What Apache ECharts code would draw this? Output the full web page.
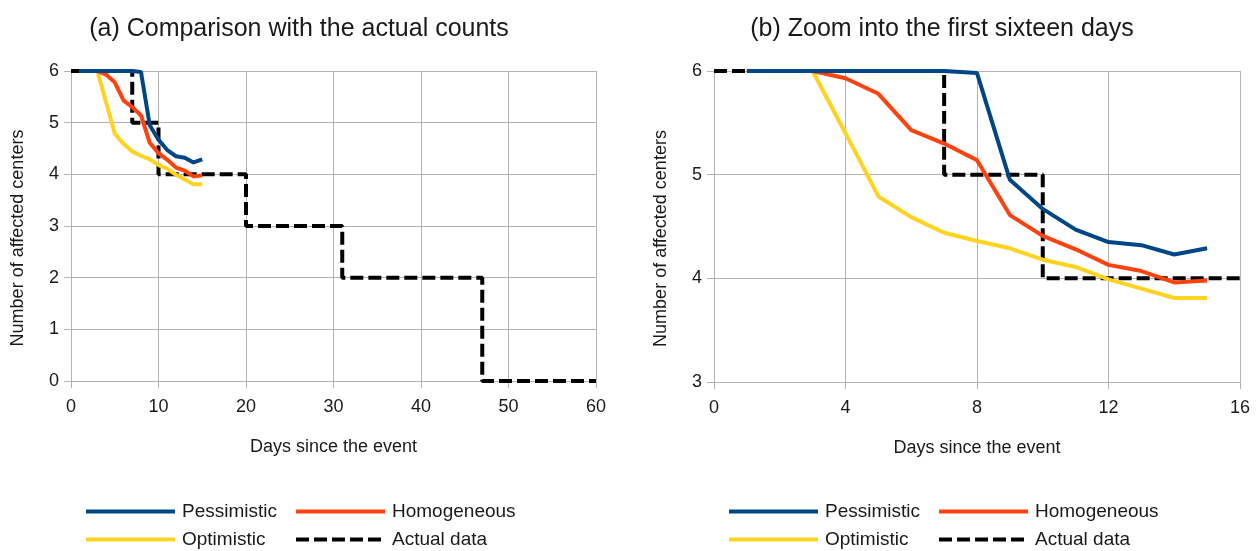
<!DOCTYPE html>
<html>
<head>
<meta charset="UTF-8">
<title>Affected centers</title>
<script src="https://cdn.jsdelivr.net/npm/echarts@6/dist/echarts.min.js"></script>
<style>
  html, body { margin: 0; padding: 0; background: #fff; }
  #chart { width: 1260px; height: 551px; }
</style>
</head>
<body>
<div id="chart"></div>
<script>
// model days and values
var modelDays = [1, 2, 3, 4, 5, 6, 7, 8, 9, 10, 11, 12, 13, 14, 15];
var pessimistic = [6, 6, 6, 6, 6, 6, 6, 5.98, 4.95, 4.67, 4.47, 4.35, 4.32, 4.23, 4.29];
var homogeneous = [6, 6, 6, 5.93, 5.78, 5.43, 5.30, 5.14, 4.61, 4.41, 4.28, 4.13, 4.07, 3.96, 3.98];
var optimistic = [6, 6, 6, 5.40, 4.79, 4.59, 4.44, 4.36, 4.29, 4.18, 4.11, 3.99, 3.90, 3.81, 3.81];
// actual counts, step changes
var actualDays = [0, 7, 10, 20, 31, 47, 60];
var actualCounts = [6, 5, 4, 3, 2, 0, 0];

var titles = ['(a) Comparison with the actual counts', '(b) Zoom into the first sixteen days'];
var xName = 'Days since the event';
var yName = 'Number of affected centers';

var textColor = '#1a1a1a';
var gridColor = '#b3b3b3';
var font = 'Liberation Sans, Arial, sans-serif';

function pairs(xs, ys) {
  var out = [];
  for (var i = 0; i < xs.length; i++) out.push([xs[i], ys[i]]);
  return out;
}

function xAxisOf(idx, max, interval) {
  return {
    type: 'value', gridIndex: idx, min: 0, max: max, interval: interval,
    name: xName, nameLocation: 'middle', nameGap: 57,
    nameTextStyle: { color: textColor, fontSize: 18, fontFamily: font },
    axisLine: { show: true, lineStyle: { color: gridColor, width: 1 } },
    axisTick: { show: true, length: 7, lineStyle: { color: gridColor } },
    axisLabel: { color: textColor, fontSize: 18, fontFamily: font, margin: 17 },
    splitLine: { show: true, lineStyle: { color: gridColor, width: 1 } }
  };
}

function yAxisOf(idx, min, max) {
  return {
    type: 'value', gridIndex: idx, min: min, max: max, interval: 1,
    name: yName, nameLocation: 'middle', nameGap: 44, nameRotate: 90,
    nameTextStyle: { color: textColor, fontSize: 18, fontFamily: font, padding: [0, 24, 0, 0] },
    axisLine: { show: true, lineStyle: { color: gridColor, width: 1 } },
    axisTick: { show: true, length: 7, lineStyle: { color: gridColor } },
    axisLabel: { color: textColor, fontSize: 18, fontFamily: font, margin: 12 },
    splitLine: { show: true, lineStyle: { color: gridColor, width: 1 } }
  };
}

function seriesOf(idx) {
  return [
    {
      name: 'Actual data', type: 'line', xAxisIndex: idx, yAxisIndex: idx,
      data: pairs(actualDays, actualCounts), step: 'end', symbol: 'none',
      lineStyle: { color: '#000000', width: 4, type: [13, 5] },
      itemStyle: { color: '#000000' }
    },
    {
      name: 'Optimistic', type: 'line', xAxisIndex: idx, yAxisIndex: idx,
      data: pairs(modelDays, optimistic), symbol: 'none',
      lineStyle: { color: '#ffd320', width: 4 }, itemStyle: { color: '#ffd320' }
    },
    {
      name: 'Homogeneous', type: 'line', xAxisIndex: idx, yAxisIndex: idx,
      data: pairs(modelDays, homogeneous), symbol: 'none',
      lineStyle: { color: '#ff420e', width: 4 }, itemStyle: { color: '#ff420e' }
    },
    {
      name: 'Pessimistic', type: 'line', xAxisIndex: idx, yAxisIndex: idx,
      data: pairs(modelDays, pessimistic), symbol: 'none',
      lineStyle: { color: '#004586', width: 4 }, itemStyle: { color: '#004586' }
    }
  ];
}

// one legend per entry so the two-by-two layout lines up like the original
function legendOf(left, top, name) {
  return {
    left: left, top: top, padding: 0,
    itemWidth: 89, itemHeight: 20, itemGap: 0,
    itemStyle: { opacity: 0 },
    lineStyle: { width: 4 },
    textStyle: { color: textColor, fontSize: 19, fontFamily: font, padding: [0, 0, 0, 2] },
    data: [name]
  };
}

var chart = echarts.init(document.getElementById('chart'));
var option = {
  animation: false,
  backgroundColor: '#ffffff',
  title: [
    { text: titles[0], left: 294, top: 12, textAlign: 'center',
      textStyle: { color: textColor, fontSize: 25, fontWeight: 'normal', fontFamily: font } },
    { text: titles[1], left: 937, top: 12, textAlign: 'center',
      textStyle: { color: textColor, fontSize: 25, fontWeight: 'normal', fontFamily: font } }
  ],
  grid: [
    { left: 71, top: 71, width: 525, height: 310 },
    { left: 714, top: 71, width: 526, height: 311 }
  ],
  xAxis: [xAxisOf(0, 60, 10), xAxisOf(1, 16, 4)],
  yAxis: [yAxisOf(0, 0, 6), yAxisOf(1, 3, 6)],
  legend: [
    legendOf(84, 502, 'Pessimistic'),
    legendOf(294, 502, 'Homogeneous'),
    legendOf(84, 530, 'Optimistic'),
    legendOf(294, 530, 'Actual data'),
    legendOf(727, 502, 'Pessimistic'),
    legendOf(937, 502, 'Homogeneous'),
    legendOf(727, 530, 'Optimistic'),
    legendOf(937, 530, 'Actual data')
  ],
  series: seriesOf(0).concat(seriesOf(1))
};
chart.setOption(option);
</script>
</body>
</html>
